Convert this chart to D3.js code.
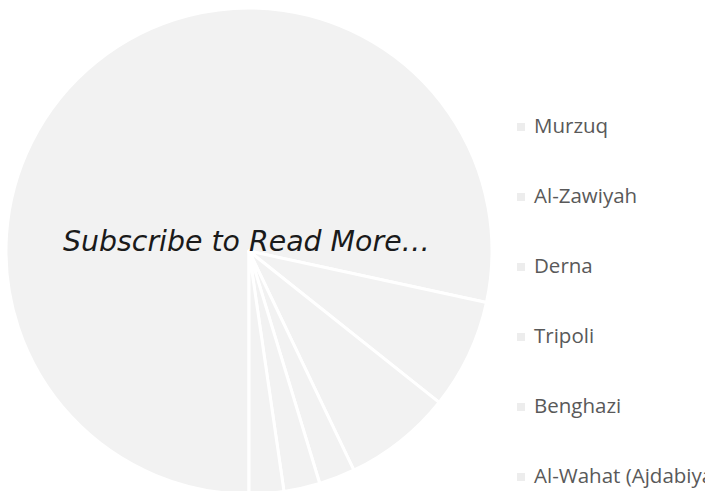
<!DOCTYPE html>
<html>
<head>
<meta charset="utf-8">
<script src="https://cdn.jsdelivr.net/npm/d3@7"></script>
<style>
  html, body { margin: 0; padding: 0; background: #fff; }
  svg { display: block; }
</style>
</head>
<body>
<svg id="chart" width="705" height="491"></svg>
<script>
var regions = ["Murzuq", "Al-Zawiyah", "Derna", "Tripoli", "Benghazi", "Al-Wahat (Ajdabiya)"]
var shares = [78.4, 7.3, 7.2, 2.4, 2.4, 2.3]
var overlayText = "Subscribe to Read More\u2026"

var width = 705
var height = 491
var cx = 249, cy = 251, radius = 243
var sliceColor = "#f2f2f2"

var svg = d3.select("#chart")

var data = regions.map(function (r, i) { return { key: r, value: shares[i] } })

// pie, first slice starting at 6 o'clock
var pie = d3.pie()
    .sort(null)
    .value(function (d) { return d.value })
    .startAngle(Math.PI)
    .endAngle(3 * Math.PI)

var arc = d3.arc()
    .innerRadius(0)
    .outerRadius(radius)

var pieG = svg.append("g")
    .attr("transform", "translate(" + cx + "," + cy + ")")

pieG.selectAll("path")
    .data(pie(data))
    .enter()
    .append("path")
    .attr("d", arc)
    .attr("fill", sliceColor)
    .attr("stroke", "#fff")
    .attr("stroke-width", 3)
    .attr("stroke-linejoin", "round")

// overlay text
svg.append("text")
    .attr("x", 63)
    .attr("y", 251)
    .attr("font-family", "'DejaVu Sans', sans-serif")
    .attr("font-style", "italic")
    .attr("font-size", 28)
    .attr("fill", "#1a1a1a")
    .attr("textLength", 367)
    .attr("lengthAdjust", "spacingAndGlyphs")
    .text(overlayText)

// legend
var legendY = d3.scalePoint()
    .domain(regions)
    .range([127, 477])

var legend = svg.selectAll(".legend")
    .data(regions)
    .enter()
    .append("g")
    .attr("class", "legend")
    .attr("transform", function (d) { return "translate(517," + legendY(d) + ")" })

legend.append("rect")
    .attr("x", 0)
    .attr("y", -4)
    .attr("width", 8)
    .attr("height", 8)
    .attr("fill", "#ededed")

legend.append("text")
    .attr("x", 17)
    .attr("y", 6)
    .attr("font-family", "'Open Sans', sans-serif")
    .attr("font-size", 20.5)
    .attr("fill", "#595959")
    .text(function (d) { return d })
</script>
</body>
</html>
